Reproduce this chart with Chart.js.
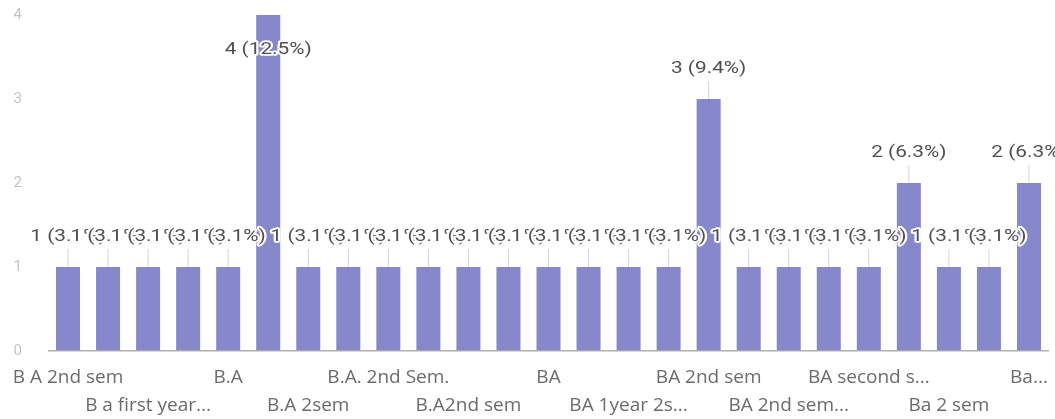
<!DOCTYPE html>
<html>
<head>
<meta charset="utf-8">
<script src="https://cdn.jsdelivr.net/npm/chart.js@4"></script>
<style>
  html, body { margin: 0; padding: 0; background: #ffffff; }
  #wrap { width: 1055px; height: 419px; position: relative; }
</style>
</head>
<body>
<div id="wrap"><canvas id="chart"></canvas></div>
<script>
// answers, in the order the form lists them
const categories = [
  "B A 2nd sem", "B A 2nd semester", "B a first year...", "B a second sem", "B.A",
  "B.A 2nd sem", "B.A 2sem", "B.A 2nd Semester", "B.A. 2nd Sem.", "B.A. second sem",
  "B.A2nd sem", "B.a 2nd sem", "BA", "BA 1 year", "BA 1year 2s...",
  "BA 2 sem", "BA 2nd sem", "BA 2nd sem 1st year", "BA 2nd sem...", "BA II sem",
  "BA second s...", "BA sem 2", "Ba 2 sem", "Ba 2nd sem", "Ba..."
];
const counts = [1, 1, 1, 1, 1, 4, 1, 1, 1, 1, 1, 1, 1, 1, 1, 1, 3, 1, 1, 1, 1, 2, 1, 1, 2];
const totalResponses = 32;
const yTicks = [0, 1, 2, 3, 4];

const barColor = "#8788cc";

// "1 (3.1%)" labels with a leader line, drawn left to right with a white halo
const valueLabels = {
  id: "valueLabels",
  afterDatasetsDraw(chart) {
    const ctx = chart.ctx;
    const meta = chart.getDatasetMeta(0);
    ctx.save();
    ctx.font = "16px Roboto";
    ctx.textAlign = "center";
    ctx.textBaseline = "middle";
    ctx.lineJoin = "round";
    meta.data.forEach((bar, i) => {
      const v = counts[i];
      const pct = (v / totalResponses * 100).toFixed(1);
      const text = v + " (" + pct + "%)";
      let ly = bar.y - 30;
      if (ly < 50) ly = 50;
      if (bar.y - ly > 14) {
        ctx.strokeStyle = "#d4d4d4";
        ctx.lineWidth = 1;
        ctx.beginPath();
        ctx.moveTo(bar.x, ly + 12);
        ctx.lineTo(bar.x, bar.y);
        ctx.stroke();
      }
      // the photo of the form is stretched sideways, so widen the text a bit
      ctx.save();
      ctx.translate(bar.x, ly);
      ctx.scale(1.3, 1);
      ctx.strokeStyle = "#ffffff";
      ctx.lineWidth = 3.5;
      ctx.strokeText(text, 0, 0);
      ctx.fillStyle = "#505050";
      ctx.fillText(text, 0, 0);
      ctx.restore();
    });
    ctx.restore();
  }
};

new Chart(document.getElementById("chart"), {
  type: "bar",
  data: {
    labels: categories,
    datasets: [{
      data: counts,
      backgroundColor: barColor,
      barPercentage: 0.6,
      categoryPercentage: 1.0
    }]
  },
  options: {
    responsive: true,
    maintainAspectRatio: false,
    animation: false,
    layout: { padding: { top: 15, right: 6, left: 0, bottom: 0 } },
    plugins: {
      legend: { display: false },
      tooltip: { enabled: false }
    },
    scales: {
      x: {
        grid: { display: false },
        border: { display: false },
        afterFit(scale) { scale.height = 68; },
        ticks: {
          autoSkip: false,
          maxRotation: 0,
          padding: 4,
          color: "#6b6b6b",
          font: { family: "Open Sans", size: 19, lineHeight: 1.5 },
          callback(value, index) {
            if (index % 2 !== 0) return "";
            const name = categories[index];
            return (index / 2) % 2 === 0 ? name : ["", name];
          }
        }
      },
      y: {
        min: 0,
        max: 4,
        afterFit(scale) {
          scale.width = 48;
          scale.paddingTop = 0;
          scale.paddingBottom = 0;
        },
        afterBuildTicks(scale) { scale.ticks = yTicks.map(v => ({ value: v })); },
        border: { display: false },
        grid: {
          drawTicks: false,
          lineWidth: 1.5,
          color: c => (c.tick && c.tick.value === 0 ? "#b0b0b0" : "rgba(0,0,0,0)")
        },
        ticks: {
          padding: 26,
          color: "#c4c4c4",
          font: { family: "Roboto", size: 15 }
        }
      }
    }
  },
  plugins: [valueLabels]
});
</script>
</body>
</html>
